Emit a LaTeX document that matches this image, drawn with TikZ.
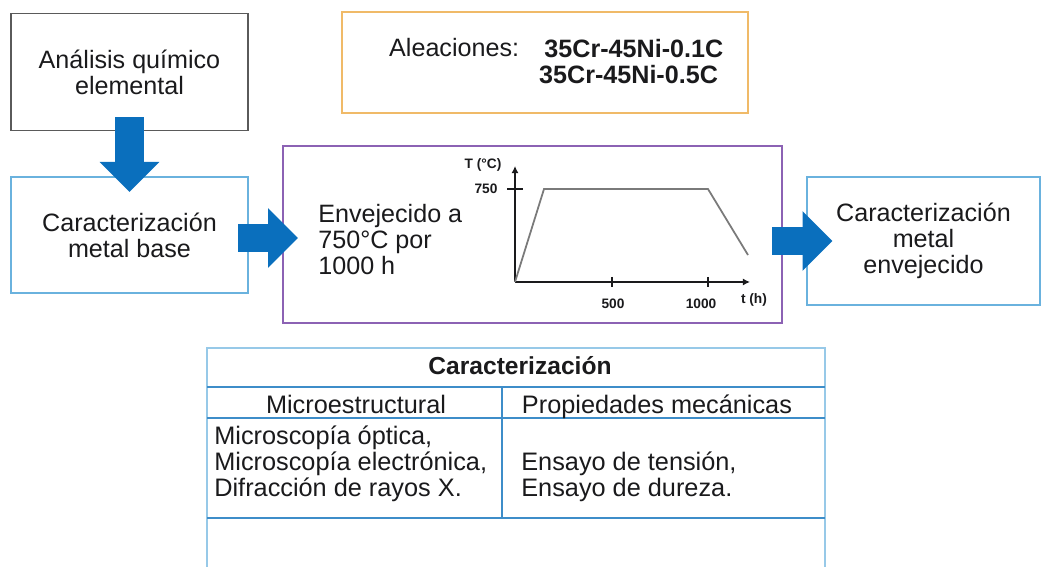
\documentclass[tikz,border=0pt]{standalone}
\usepackage{fontspec}
\setmainfont{Liberation Sans}
\usepackage{tikz}
\usetikzlibrary{arrows.meta, positioning, calc}
\definecolor{flow}    {HTML}{0A6FBD}
\definecolor{ink}     {HTML}{1A1A1C}
\definecolor{greyline}{HTML}{5A5A5A}
\definecolor{skyline} {HTML}{6AB2DE}
\definecolor{violet}  {HTML}{8C62B4}
\definecolor{amber}   {HTML}{F0BA68}
\definecolor{gridblue}{HTML}{3D8DC9}
\definecolor{curve}   {HTML}{7A7A7A}

\tikzset{
  stage/.style={draw=#1, line width=1.1pt, fill=white, text=ink, align=center,
    font=\fontsize{14.3}{14.9}\selectfont, inner sep=0pt},
  blockarrow/.style={draw=flow, line width=16pt,
    -{Triangle[length=17pt, width=33pt]}},
  ticklbl/.style={text=ink, font=\fontsize{7.8}{8}\selectfont\bfseries, inner sep=1pt},
  cell/.style={text=ink, font=\fontsize{14.4}{14.8}\selectfont, inner sep=0pt}
}

\begin{document}
\begin{tikzpicture}[x=0.02cm, y=-0.02cm]
    \useasboundingbox (0,0) rectangle (1045,567);

    % boxes of the flow
    \node[stage=greyline, minimum width=4.74cm, minimum height=2.34cm] (quim) at (129.5,72)
      {An\'alisis qu\'imico\\elemental};
    \node[stage=skyline, minimum width=4.74cm, minimum height=2.32cm] (base) at (129.5,235)
      {Caracterizaci\'on\\metal base};
    \node[stage=amber, minimum width=8.12cm, minimum height=2.02cm] (alea) at (545,62.5) {};
    \node[stage=violet, minimum width=9.98cm, minimum height=3.54cm] (env) at (532.5,234.5) {};
    \node[stage=skyline, minimum width=4.66cm, minimum height=2.56cm] (aged) at (923.5,241)
      {Caracterizaci\'on\\metal\\envejecido};

    % alloys
    \node[anchor=west, text=ink, font=\fontsize{14.3}{14.8}\selectfont] (alname) at (383,48)
      {Aleaciones:};
    \node[anchor=west, align=left, text=ink, font=\fontsize{14.3}{14.8}\selectfont\bfseries]
      (allist) at (533,61.5) {\hspace*{3pt}35Cr-45Ni-0.1C\\35Cr-45Ni-0.5C};

    % aging text
    \node[anchor=west, align=left, text=ink, font=\fontsize{14.3}{14.8}\selectfont, inner sep=0pt]
      (envtxt) at (318,240) {Envejecido a\\750\textdegree C por\\1000 h};

    % heat treatment plot
    \coordinate (o) at (515,282);
    \draw[ink, line width=1.3pt, -{Latex[length=4pt,width=4pt]}] (o) -- (515,166);
    \draw[ink, line width=1.3pt, -{Latex[length=4pt,width=4pt]}] (o) -- (750,282);
    \draw[ink, line width=0.6pt] (507,189) -- (523,189);
    \draw[ink, line width=0.6pt] (612,277) -- (612,287);
    \draw[ink, line width=0.6pt] (708,277) -- (708,287);
    \draw[curve, line width=1pt] (o) -- (544,189) -- (708,189) -- (748,255);
    \node[ticklbl] (tlbl) at (483,165) {T (\textdegree C)};
    \node[ticklbl] (t750) at (486,189) {750};
    \node[ticklbl] (t500) at (613,304) {500};
    \node[ticklbl] (t1000) at (701,304) {1000};
    \node[ticklbl] (tlbx) at (754,300) {t (h)};

    % arrows
    \draw[blockarrow] ([yshift=8pt]quim.south) -- ([yshift=-9pt]base.north);
    \draw[blockarrow] ([xshift=-6pt]base.east |- 0,238) -- ([xshift=9pt]env.west |- 0,238);
    \draw[blockarrow] ([xshift=-6pt]env.east |- 0,241) -- ([xshift=15pt]aged.west |- 0,241);

    % table
    \draw[skyline!70, line width=1.6pt] (207,567) -- (207,348) -- (825,348) -- (825,567);
    \draw[gridblue, line width=1.1pt] (207,387) -- (825,387);
    \draw[gridblue, line width=1.1pt] (207,418) -- (825,418);
    \draw[gridblue, line width=1.1pt] (207,518) -- (825,518);
    \draw[gridblue, line width=1.1pt] (502,387) -- (502,518);
    \node[cell, font=\fontsize{14}{14.8}\selectfont\bfseries] (ttl) at (520,366)
      {Caracterizaci\'on};
    \node[cell, anchor=base] (micro) at (356,414) {Microestructural};
    \node[cell, anchor=base] (mech) at (657,414) {Propiedades mec\'anicas};
    \node[cell, anchor=west, align=left] (microtx) at (214,464)
      {Microscop\'ia \'optica,\\Microscop\'ia electr\'onica,\\Difracci\'on de rayos X.};
    \node[cell, anchor=west, align=left] (mechtx) at (521,477)
      {Ensayo de tensi\'on,\\Ensayo de dureza.};
\end{tikzpicture}
\end{document}
